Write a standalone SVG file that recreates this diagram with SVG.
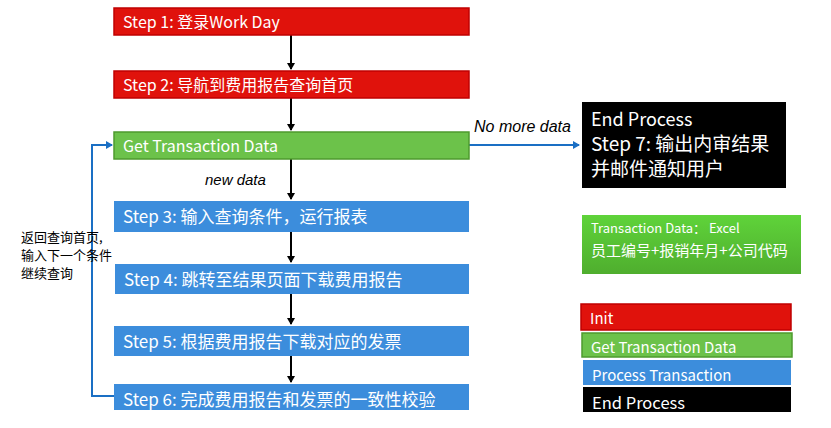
<svg xmlns="http://www.w3.org/2000/svg" width="831" height="428" viewBox="0 0 831 428">
<style>
text{font-family:"Noto Sans CJK SC","Noto Sans",sans-serif;fill:#fff}
.s{font-size:16px}
.t{font-size:17px}
.red{fill:#e0120c;stroke:#c00000;stroke-width:1.5}
.grn{fill:#6cc24a;stroke:#4e9a2e;stroke-width:1.5}
.blu{fill:#3c8ddc}
.blk{fill:#000}
.k{stroke:#000;stroke-width:2;fill:none;marker-end:url(#ak)}
.b{stroke:#1a6fc4;stroke-width:2;fill:none;marker-end:url(#ab)}
</style>
<defs>
<marker id="ak" markerWidth="8" markerHeight="8" refX="6" refY="4" orient="auto" markerUnits="userSpaceOnUse"><path d="M0,0L7,4L0,8z" fill="#000"/></marker>
<marker id="ab" markerWidth="8" markerHeight="8" refX="6" refY="4" orient="auto" markerUnits="userSpaceOnUse"><path d="M0,0L7,4L0,8z" fill="#1a6fc4"/></marker>
<linearGradient id="gg" x1="0" y1="0" x2="0" y2="1"><stop offset="0" stop-color="#5fd33a"/><stop offset="1" stop-color="#4fae2e"/></linearGradient>
</defs>
<rect width="831" height="428" fill="#fff"/>
<g id="connectors">
<path class="k" d="M291,35V69"/>
<path class="k" d="M291,98V130"/>
<path class="k" d="M291,159V199"/>
<path class="k" d="M291,232V262"/>
<path class="k" d="M291,294V324"/>
<path class="k" d="M291,356V382"/>
<path class="b" d="M469,145H579"/>
<path class="b" d="M114,396H92V145H112"/>
<text x="474" y="132" font-size="16" font-style="italic" style="fill:#000;font-family:'Liberation Sans',sans-serif">No more data</text>
<text x="205" y="185" font-size="15" font-style="italic" style="fill:#000;font-family:'Liberation Sans',sans-serif">new data</text>
<text x="21" y="242" font-size="13" style="fill:#000">返回查询首页,</text>
<text x="21" y="260" font-size="13" style="fill:#000">输入下一个条件</text>
<text x="21" y="278" font-size="13" style="fill:#000">继续查询</text>
</g>
<g id="step1"><rect class="red" x="114" y="8" width="355" height="27"/><text class="s" x="123" y="28">Step 1: 登录Work Day</text></g>
<g id="step2"><rect class="red" x="114" y="71" width="355" height="27"/><text class="s" x="123" y="91">Step 2: 导航到费用报告查询首页</text></g>
<g id="get"><rect class="grn" x="114" y="132" width="355" height="27"/><text class="s" x="123" y="152">Get Transaction Data</text></g>
<g id="step3"><rect class="blu" x="114" y="201" width="355" height="31"/><text class="t" x="123" y="223">Step 3: 输入查询条件，运行报表</text></g>
<g id="step4"><rect class="blu" x="115" y="264" width="354" height="30"/><text class="t" x="124" y="286">Step 4: 跳转至结果页面下载费用报告</text></g>
<g id="step5"><rect class="blu" x="114" y="326" width="355" height="30"/><text class="t" x="123" y="348">Step 5: 根据费用报告下载对应的发票</text></g>
<g id="step6"><rect class="blu" x="114" y="384" width="355" height="26"/><text class="t" x="123" y="406">Step 6: 完成费用报告和发票的一致性校验</text></g>
<g id="end"><rect class="blk" x="582" y="102" width="204" height="86"/><text x="591" y="126" font-size="18">End Process</text><text x="591" y="151" font-size="19">Step 7: 输出内审结果</text><text x="591" y="176" font-size="19">并邮件通知用户</text></g>
<g id="tdata"><rect x="582" y="215" width="219" height="59" fill="url(#gg)"/><text x="591" y="233" font-size="13">Transaction Data： Excel</text><text x="591" y="256" font-size="15">员工编号+报销年月+公司代码</text></g>
<g id="legend-init"><rect class="red" x="581" y="304" width="210" height="26"/><text x="590" y="324" font-size="15">Init</text></g>
<g id="legend-get"><rect class="grn" x="582" y="333" width="210" height="24"/><text x="591" y="353" font-size="15">Get Transaction Data</text></g>
<g id="legend-proc"><rect class="blu" x="583" y="360" width="208" height="25"/><text x="592" y="381" font-size="15">Process Transaction</text></g>
<g id="legend-end"><rect class="blk" x="583" y="387" width="208" height="25"/><text x="592" y="409" font-size="16.5">End Process</text></g>
</svg>
